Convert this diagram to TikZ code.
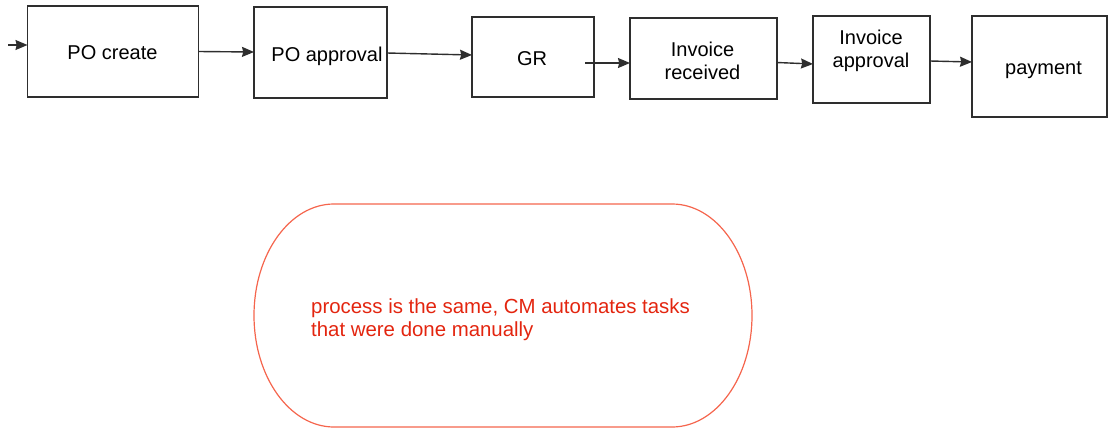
\documentclass[tikz,border=0pt]{standalone}
\usepackage{fontspec}
\setmainfont{Liberation Sans}
\usetikzlibrary{arrows.meta,calc}
\definecolor{edge}{HTML}{2E2E2E}
\definecolor{notetext}{HTML}{E3250F}
\definecolor{noteline}{HTML}{F5654D}
\begin{document}
\begin{tikzpicture}[x=1pt,y=-1pt,
  stepbox/.style={draw=edge,line width=1.3pt,inner sep=0pt,outer sep=0pt},
  steptext/.style={inner sep=0pt,align=center,font=\fontsize{20}{23}\selectfont},
  flow/.style={draw=edge,line width=1.4pt,-{Stealth[length=12pt,width=10pt,inset=1.2pt]}}]
\useasboundingbox (0,0) rectangle (1109,429);

% process steps
\node[stepbox,minimum width=171pt,minimum height=91pt] (pocreate) at (113,51.5) {};
\node[stepbox,minimum width=133pt,minimum height=91pt] (poappr) at (320.5,52.5) {};
\node[stepbox,minimum width=122pt,minimum height=80pt] (gr) at (533,57) {};
\node[stepbox,minimum width=147pt,minimum height=81pt] (invrec) at (703.5,58.5) {};
\node[stepbox,minimum width=117pt,minimum height=87pt] (invappr) at (871.5,59.5) {};
\node[stepbox,minimum width=135pt,minimum height=101pt] (payment) at (1039.5,66.5) {};

% step captions
\node[steptext] (pocreate-txt) at ($(pocreate)+(-0.5,1)$) {PO create};
\node[steptext] (poappr-txt) at ($(poappr)+(6.5,4)$) {PO approval};
\node[steptext] (gr-txt) at ($(gr)+(-1,2)$) {GR};
\node[steptext] (invrec-txt) at ($(invrec)+(-1,2)$) {Invoice\\received};
\node[steptext] (invappr-txt) at ($(invappr)+(-0.5,-8.5)$) {Invoice\\approval};
\node[steptext] (payment-txt) at ($(payment)+(4,4)$) {payment};

% connectors
\coordinate (start) at (8,45);
\draw[flow] (start) -- ($(pocreate.west)+(0,-6.5)$);
\draw[flow] (pocreate.east) -- ($(poappr.west)+(0,-0.5)$);
\draw[flow] ($(poappr.east)+(0,0.5)$) -- ($(gr.west)+(0,-2)$);
\draw[flow] ($(gr.east)+(-9,6)$) -- ($(invrec.west)+(0,4.5)$);
\draw[flow] ($(invrec.east)+(0,4)$) -- ($(invappr.west)+(0,4.5)$);
\draw[flow] ($(invappr.east)+(0,1.5)$) -- ($(payment.west)+(0,-4.5)$);

% note
\draw[noteline,line width=1.2pt] (334,204) -- (672,204)
  arc[start angle=90,end angle=-90,x radius=80pt,y radius=111.5pt]
  -- (334,427)
  arc[start angle=270,end angle=90,x radius=80pt,y radius=111.5pt] -- cycle;
\node[anchor=north west,align=left,text=notetext,inner sep=0pt,
  font=\fontsize{20.4}{22.5}\selectfont] (note) at (311,299)
  {process is the same, CM automates tasks\\that were done manually};
\end{tikzpicture}
\end{document}
